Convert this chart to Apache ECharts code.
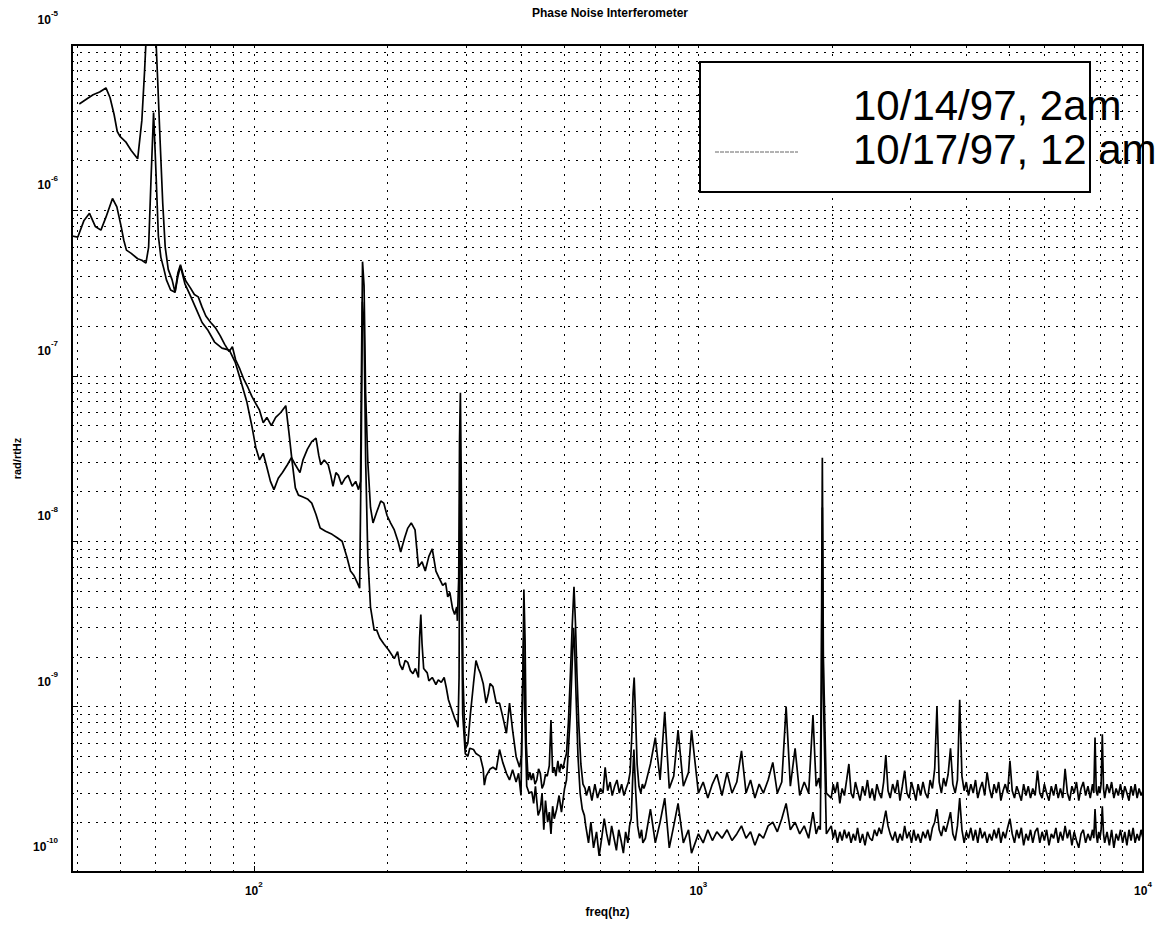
<!DOCTYPE html>
<html>
<head>
<meta charset="utf-8">
<title>Phase Noise Interferometer</title>
<script src="https://cdn.jsdelivr.net/npm/echarts/dist/echarts.min.js"></script>
<style>
  html, body { margin: 0; padding: 0; background: #fff; }
  #chart { width: 1167px; height: 930px; }
</style>
</head>
<body>
<div id="chart"></div>
<script>
// 10/14/97, 2am  -- [freq (Hz), rad/rtHz] up to 750 Hz
const lowFreq2am = [
  [40.5, 4.4e-6], [42, 4.7e-6], [43.5, 5.0e-6], [45, 5.2e-6], [46.5, 5.5e-6], [47.5, 4.8e-6], [48.5, 3.8e-6], [49.3, 3.0e-6],
  [50, 2.8e-6], [51.5, 2.6e-6], [53, 2.3e-6], [54.8, 2.05e-6], [56, 3.5e-6], [56.8, 7e-6], [57.5, 1.4e-5], [60, 1.4e-5],
  [60.8, 6e-6], [61.6, 2.5e-6], [62.4, 1.1e-6], [63.2, 6e-7], [64.2, 4.4e-7], [65.5, 3.8e-7], [66.5, 3.2e-7], [67.5, 4.2e-7],
  [68.4, 4.7e-7], [69.5, 4.0e-7], [70.5, 3.7e-7], [72, 3.4e-7], [73.5, 3.1e-7], [75, 3.0e-7], [76.5, 2.6e-7], [78, 2.3e-7],
  [80, 2.1e-7], [82, 1.95e-7], [84, 1.75e-7], [86, 1.55e-7], [88, 1.4e-7], [89.5, 1.5e-7], [91, 1.25e-7], [93, 1.1e-7],
  [95, 9.5e-8], [97, 8.5e-8], [99, 7.5e-8], [101, 6.8e-8], [103, 6.2e-8], [105, 5.2e-8], [107, 5.6e-8], [109.5, 5.0e-8],
  [112, 5.6e-8], [115, 6.0e-8], [118, 6.6e-8], [120, 4.5e-8], [122, 3.0e-8], [124, 2.1e-8], [126, 1.9e-8], [129, 1.85e-8],
  [132, 1.8e-8], [135, 1.7e-8], [138, 1.45e-8], [141, 1.2e-8], [145, 1.15e-8], [150, 1.1e-8], [154, 1.05e-8], [158, 1.0e-8],
  [162, 8e-9], [165, 6.6e-9], [168, 6.2e-9], [171, 5.6e-9], [173, 5.2e-9], [174.5, 4e-8], [175.5, 2.8e-7], [177, 2e-7],
  [178.5, 3e-8], [180.5, 8e-9], [183, 4e-9], [186.5, 2.9e-9], [189, 2.9e-9], [192, 2.6e-9], [196, 2.4e-9], [201, 2.2e-9],
  [207, 1.95e-9], [210.6, 2.15e-9], [213, 1.8e-9], [216, 1.67e-9], [219, 1.9e-9], [222, 1.85e-9], [225, 1.65e-9], [228, 1.58e-9],
  [231, 1.7e-9], [234.6, 1.5e-9], [236, 2.6e-9], [237.5, 3.6e-9], [239, 2.4e-9], [241, 1.7e-9], [245.5, 1.6e-9], [247.6, 1.43e-9],
  [252, 1.5e-9], [256.8, 1.36e-9], [260, 1.45e-9], [264, 1.4e-9], [268, 1.5e-9], [271, 1.3e-9], [274, 1.1e-9], [279, 9.5e-10],
  [283, 8.5e-10], [286, 8e-10], [288, 7.5e-10], [289.5, 1.5e-9], [291, 3.5e-8], [292.5, 1e-8], [295, 9e-10], [299, 5.2e-10],
  [303, 5.0e-10], [306, 5.6e-10], [312, 5.5e-10], [316, 5.2e-10], [323, 5.0e-10], [328, 4.2e-10], [330, 3.35e-10], [333, 3.8e-10],
  [340, 4.2e-10], [345, 4.3e-10], [351, 4.15e-10], [357, 5.5e-10], [363, 4.6e-10], [370, 3.95e-10], [376, 3.6e-10], [382, 4.15e-10],
  [389, 3.5e-10], [394, 3.95e-10], [399, 2.9e-10], [402, 1.2e-9], [404.5, 2.6e-9], [407, 9e-10], [411, 3.3e-10], [416, 3.0e-10],
  [422, 3.05e-10], [426, 2.6e-10], [430, 3.3e-10], [436, 2.2e-10], [441, 2.4e-10], [445, 3.0e-10], [449, 1.8e-10], [453, 2.7e-10],
  [458, 2.0e-10], [462, 2.3e-10], [466, 1.7e-10], [470, 2.5e-10], [474, 2.1e-10], [480, 2.4e-10], [486, 2.9e-10], [492, 2.3e-10],
  [500, 3.2e-10], [505, 3.6e-10], [510, 5.5e-10], [515, 9e-10], [520, 1.8e-9], [524, 3.0e-9], [527, 2.2e-9], [531, 1.1e-9],
  [536, 5e-10], [542, 3e-10], [548, 2.4e-10], [554, 2.2e-10], [558, 1.9e-10], [566, 1.5e-10], [573, 2.0e-10], [581, 1.4e-10],
  [590, 1.75e-10], [598, 1.25e-10], [606, 1.6e-10], [614, 2.1e-10], [622, 1.7e-10], [630, 1.45e-10], [638, 1.9e-10], [646, 1.6e-10],
  [654, 1.35e-10], [662, 1.8e-10], [670, 1.55e-10], [678, 1.3e-10], [686, 1.75e-10], [694, 1.5e-10], [700, 1.9e-10], [706, 2.1e-10],
  [711, 3.5e-10], [716, 5.5e-10], [722, 3.2e-10], [730, 1.9e-10], [738, 1.6e-10], [745, 1.8e-10], [750, 1.5e-10]
];

// 10/17/97, 12 am  -- [freq (Hz), rad/rtHz] up to 754 Hz
const lowFreq12am = [
  [39, 7.0e-7], [40.2, 6.9e-7], [41.5, 8.7e-7], [42.7, 9.6e-7], [44, 8.0e-7], [45.3, 7.6e-7], [46.5, 9.1e-7], [48.1, 1.18e-6],
  [49.2, 1.05e-6], [50.3, 8.0e-7], [51, 6.6e-7], [51.7, 5.75e-7], [53, 5.5e-7], [54.8, 5.1e-7], [56, 5.0e-7], [57.2, 4.8e-7],
  [58, 6e-7], [58.7, 1.5e-6], [59.5, 3.9e-6], [60.3, 1.6e-6], [61, 7e-7], [61.8, 5.2e-7], [62.8, 4.4e-7], [63.6, 3.8e-7],
  [65, 3.3e-7], [66.5, 3.2e-7], [67.5, 4.0e-7], [68.4, 4.6e-7], [70, 3.6e-7], [72.2, 3.0e-7], [74.6, 2.45e-7], [76.5, 2.1e-7],
  [78.7, 1.9e-7], [81.6, 1.6e-7], [84.8, 1.47e-7], [88.1, 1.43e-7], [90.9, 1.2e-7], [93.6, 9.2e-8], [96.4, 7e-8], [99.1, 4.9e-8],
  [101, 3.7e-8], [103, 3.1e-8], [105, 3.4e-8], [107, 2.8e-8], [109, 2.3e-8], [111, 2.05e-8], [113.5, 2.4e-8], [116, 2.6e-8],
  [119, 2.9e-8], [121.5, 3.2e-8], [124, 2.9e-8], [127, 2.6e-8], [129, 3.1e-8], [132, 3.6e-8], [135, 4.0e-8], [138, 4.2e-8],
  [140, 3.3e-8], [141.5, 2.9e-8], [144, 3.1e-8], [147, 2.9e-8], [149, 2.5e-8], [150.7, 2.15e-8], [153, 2.6e-8], [155, 2.5e-8],
  [157.5, 2.2e-8], [160.4, 2.4e-8], [163, 2.5e-8], [166.5, 2.15e-8], [169.5, 2.3e-8], [172, 2.05e-8], [173.8, 2.3e-8], [174.6, 1e-7],
  [175.6, 4.9e-7], [177, 3.5e-7], [178.4, 8e-8], [180.5, 3e-8], [183, 1.6e-8], [185.4, 1.29e-8], [189, 1.5e-8], [193, 1.75e-8],
  [196, 1.7e-8], [199.4, 1.43e-8], [203, 1.29e-8], [207, 1.17e-8], [211, 1.0e-8], [214, 8.6e-9], [218.4, 1.05e-8], [222, 1.2e-8],
  [226, 1.29e-8], [230.5, 1.17e-8], [234.6, 7.0e-9], [239, 7.5e-9], [243, 6.6e-9], [247.6, 8.1e-9], [252, 9.0e-9], [256.8, 6.6e-9],
  [261, 6.0e-9], [266, 5.4e-9], [270, 5.6e-9], [273, 4.6e-9], [276, 4.9e-9], [280, 3.9e-9], [283, 3.6e-9], [286, 4.0e-9],
  [287, 3.3e-9], [289, 6e-9], [290.2, 4e-8], [291.5, 7.9e-8], [293, 2e-8], [295.5, 1.5e-9], [299, 5.5e-10], [303, 6.0e-10],
  [307, 9e-10], [312, 1.38e-9], [316, 1.9e-9], [320, 1.7e-9], [323, 1.6e-9], [328, 1.38e-9], [333, 1.05e-9], [337, 1.2e-9],
  [340, 1.38e-9], [345, 1.32e-9], [351, 1.05e-9], [357, 1.05e-9], [363, 8.7e-10], [370, 6.9e-10], [376, 1.05e-9], [382, 7.2e-10],
  [389, 5.0e-10], [396, 4.3e-10], [400, 5e-10], [403, 1.5e-9], [405, 5.1e-9], [407.5, 2.5e-9], [410, 6e-10], [414, 3.6e-10],
  [418, 4.0e-10], [421, 3.6e-10], [425, 3.95e-10], [429, 3.4e-10], [433, 3.6e-10], [437, 4.2e-10], [441, 3.95e-10], [445, 3.2e-10],
  [449, 3.4e-10], [453, 3.9e-10], [457, 3.8e-10], [462, 4.4e-10], [466, 8.3e-10], [470, 4.0e-10], [474, 4.3e-10], [478, 3.8e-10],
  [483, 4.7e-10], [487, 4.0e-10], [491, 4.5e-10], [496, 4.2e-10], [500, 4.7e-10], [505, 5.2e-10], [510, 8e-10], [515, 1.5e-9],
  [520, 3e-9], [525, 5.3e-9], [529, 3.2e-9], [533, 1.6e-9], [538, 8e-10], [544, 4.5e-10], [550, 3.4e-10], [556, 3.2e-10],
  [560, 2.9e-10], [568, 3.3e-10], [576, 2.7e-10], [585, 3.4e-10], [593, 2.8e-10], [602, 3.2e-10], [610, 3.0e-10], [617, 4.3e-10],
  [625, 3.1e-10], [633, 3.5e-10], [640, 2.9e-10], [648, 3.3e-10], [656, 3.6e-10], [664, 3.0e-10], [672, 3.4e-10], [680, 2.9e-10],
  [688, 3.2e-10], [696, 3.5e-10], [702, 4.0e-10], [708, 6.5e-10], [713, 1.2e-9], [717, 1.5e-9], [722, 9e-10], [728, 4.5e-10],
  [735, 3.3e-10], [742, 3.0e-10], [748, 3.4e-10], [754, 3.2e-10]
];

// frequency bins above 750 Hz, shared by both runs
const highFreqBins = [
  760, 780, 800, 820, 840, 860, 880, 900, 925, 950,
  965, 1000, 1025, 1050, 1075, 1100, 1130, 1160, 1190, 1220,
  1250, 1280, 1310, 1340, 1370, 1400, 1435, 1470, 1505, 1540,
  1575, 1610, 1650, 1690, 1730, 1770, 1810, 1840, 1865, 1880,
  1890, 1900, 1910, 1940,
  1990, 2010, 2030, 2055, 2080, 2105, 2130, 2155, 2180, 2205,
  2230, 2255, 2280, 2310, 2340, 2370, 2400, 2430, 2460, 2490,
  2520, 2550, 2580, 2610, 2640, 2670, 2700, 2735, 2770, 2805,
  2840, 2875, 2910, 2945, 2980, 3015, 3050, 3085, 3120, 3160,
  3200, 3240, 3280, 3320, 3360, 3400, 3440, 3480, 3520, 3560,
  3600, 3645, 3690, 3735, 3780, 3825, 3870, 3915, 3960, 4005,
  4050, 4100, 4150, 4200, 4250, 4300, 4350, 4405, 4460, 4515,
  4570, 4625, 4680, 4735, 4790, 4845, 4900, 4960, 5020, 5080,
  5140, 5200, 5260, 5325, 5390, 5455, 5520, 5585, 5650, 5720,
  5790, 5860, 5930, 6000, 6070, 6145, 6220, 6295, 6370, 6445,
  6520, 6600, 6680, 6760, 6840, 6920, 7000, 7085, 7170, 7255,
  7340, 7430, 7520, 7610, 7700, 7750, 7800, 7850, 7900, 7950,
  8000, 8050, 8100, 8150, 8200, 8300, 8400, 8500, 8600, 8700,
  8800, 8900, 9000, 9100, 9200, 9300, 9400, 9500, 9600, 9700,
  9800, 9900, 10000
];

// lower noise floor (10/14/97, 2am)
const highAmp2am = [
  1.6e-10, 2.4e-10, 1.5e-10, 2.0e-10, 2.8e-10, 1.4e-10, 1.9e-10, 2.6e-10, 1.5e-10, 1.8e-10,
  1.3e-10, 1.7e-10, 1.5e-10, 1.8e-10, 1.55e-10, 1.75e-10, 1.6e-10, 1.8e-10, 1.55e-10, 1.7e-10,
  1.9e-10, 1.6e-10, 1.75e-10, 1.45e-10, 1.7e-10, 1.6e-10, 1.9e-10, 2.0e-10, 1.75e-10, 2.1e-10,
  2.6e-10, 1.8e-10, 2.0e-10, 1.7e-10, 1.9e-10, 1.6e-10, 2.3e-10, 1.7e-10, 1.9e-10, 1.8e-10,
  8e-10, 1.6e-8, 1.2e-9, 1.7e-10,
  1.9e-10, 1.6e-10, 1.8e-10, 1.5e-10, 1.75e-10, 1.55e-10, 1.8e-10, 1.6e-10, 1.75e-10, 1.5e-10,
  1.7e-10, 1.55e-10, 1.85e-10, 1.5e-10, 1.7e-10, 1.45e-10, 1.75e-10, 1.6e-10, 1.55e-10, 1.8e-10,
  1.65e-10, 1.85e-10, 1.7e-10, 2.0e-10, 2.35e-10, 1.9e-10, 1.7e-10, 1.55e-10, 1.75e-10, 1.5e-10,
  1.7e-10, 1.55e-10, 1.9e-10, 1.6e-10, 1.75e-10, 1.5e-10, 1.8e-10, 1.55e-10, 1.7e-10, 1.5e-10,
  1.75e-10, 1.6e-10, 1.8e-10, 1.55e-10, 1.85e-10, 2.0e-10, 2.4e-10, 1.8e-10, 1.65e-10, 1.9e-10,
  1.75e-10, 2.0e-10, 2.3e-10, 1.7e-10, 1.55e-10, 1.9e-10, 2.8e-10, 1.8e-10, 1.5e-10, 1.75e-10,
  1.6e-10, 1.85e-10, 1.55e-10, 1.8e-10, 1.5e-10, 1.85e-10, 1.6e-10, 1.75e-10, 1.5e-10, 1.7e-10,
  1.55e-10, 1.8e-10, 1.6e-10, 1.85e-10, 1.5e-10, 1.75e-10, 1.6e-10, 1.85e-10, 2.1e-10, 1.7e-10,
  1.5e-10, 1.8e-10, 1.6e-10, 1.85e-10, 1.45e-10, 1.7e-10, 1.55e-10, 1.8e-10, 1.5e-10, 1.75e-10,
  1.85e-10, 1.5e-10, 1.75e-10, 1.55e-10, 1.8e-10, 1.45e-10, 1.7e-10, 1.6e-10, 1.85e-10, 1.5e-10,
  1.75e-10, 1.55e-10, 1.9e-10, 1.6e-10, 1.8e-10, 1.45e-10, 1.75e-10, 1.55e-10, 1.4e-10, 1.7e-10,
  1.8e-10, 1.5e-10, 1.7e-10, 1.55e-10, 1.8e-10, 1.6e-10, 2.4e-10, 1.7e-10, 1.5e-10, 1.75e-10,
  1.6e-10, 1.8e-10, 2.5e-10, 1.7e-10, 1.5e-10, 1.75e-10, 1.45e-10, 1.8e-10, 1.4e-10, 1.7e-10,
  1.55e-10, 1.8e-10, 1.5e-10, 1.75e-10, 1.45e-10, 1.8e-10, 1.55e-10, 1.85e-10, 1.5e-10, 1.7e-10,
  1.55e-10, 1.8e-10, 1.6e-10
];

// upper noise floor (10/17/97, 12 am)
const highAmp12am = [
  3.4e-10, 4.5e-10, 6.5e-10, 3.6e-10, 9.3e-10, 3.2e-10, 3.8e-10, 7.2e-10, 3.3e-10, 4.0e-10,
  7.2e-10, 3.0e-10, 3.5e-10, 2.8e-10, 3.4e-10, 3.9e-10, 2.9e-10, 4.0e-10, 3.0e-10, 3.5e-10,
  5.4e-10, 3.0e-10, 3.6e-10, 2.8e-10, 3.4e-10, 3.0e-10, 3.6e-10, 4.6e-10, 3.0e-10, 3.5e-10,
  1.0e-9, 3.3e-10, 5.6e-10, 2.9e-10, 3.5e-10, 3.0e-10, 8.9e-10, 3.3e-10, 3.7e-10, 3.2e-10,
  1.5e-9, 3.2e-8, 2.0e-9, 3.0e-10,
  2.8e-10, 3.4e-10, 3.0e-10, 3.5e-10, 2.6e-10, 3.2e-10, 2.9e-10, 3.6e-10, 4.5e-10, 3.0e-10,
  2.8e-10, 3.5e-10, 3.1e-10, 2.7e-10, 3.3e-10, 2.9e-10, 3.6e-10, 2.8e-10, 3.2e-10, 2.7e-10,
  3.4e-10, 3.0e-10, 2.8e-10, 3.5e-10, 5.1e-10, 3.1e-10, 2.8e-10, 3.4e-10, 3.0e-10, 3.6e-10,
  2.7e-10, 3.3e-10, 4.1e-10, 3.0e-10, 2.8e-10, 3.5e-10, 3.1e-10, 2.7e-10, 3.4e-10, 2.9e-10,
  3.5e-10, 3.0e-10, 2.8e-10, 3.6e-10, 3.2e-10, 4.2e-10, 1.0e-9, 3.5e-10, 3.0e-10, 3.7e-10,
  3.3e-10, 3.9e-10, 5.6e-10, 3.4e-10, 3.0e-10, 3.6e-10, 1.1e-9, 3.8e-10, 3.1e-10, 3.5e-10,
  2.9e-10, 3.4e-10, 3.0e-10, 3.6e-10, 2.8e-10, 3.2e-10, 3.5e-10, 2.9e-10, 4.0e-10, 3.2e-10,
  2.8e-10, 3.4e-10, 3.0e-10, 3.5e-10, 2.7e-10, 3.1e-10, 3.4e-10, 3.0e-10, 4.7e-10, 3.1e-10,
  2.8e-10, 3.3e-10, 3.0e-10, 2.7e-10, 3.4e-10, 2.9e-10, 3.3e-10, 2.8e-10, 3.2e-10, 2.9e-10,
  4.1e-10, 3.0e-10, 2.8e-10, 3.4e-10, 3.0e-10, 2.7e-10, 3.3e-10, 2.9e-10, 3.4e-10, 2.8e-10,
  3.2e-10, 2.8e-10, 4.2e-10, 3.0e-10, 2.7e-10, 3.3e-10, 3.0e-10, 3.5e-10, 2.7e-10, 3.2e-10,
  3.5e-10, 2.9e-10, 3.3e-10, 2.8e-10, 3.4e-10, 3.0e-10, 6.5e-10, 3.1e-10, 2.9e-10, 3.3e-10,
  3.0e-10, 3.4e-10, 6.8e-10, 3.2e-10, 2.8e-10, 3.4e-10, 3.0e-10, 3.5e-10, 2.8e-10, 3.2e-10,
  2.9e-10, 3.4e-10, 2.8e-10, 3.3e-10, 3.0e-10, 2.7e-10, 3.3e-10, 2.9e-10, 3.4e-10, 2.8e-10,
  3.2e-10, 2.9e-10, 3.1e-10
];

// dotted grid (matlab style, every 1..9 of each decade)
const xGridLines = [40, 50, 60, 70, 80, 90, 100, 200, 300, 400, 500, 600, 700, 800, 900,
  1000, 2000, 3000, 4000, 5000, 6000, 7000, 8000, 9000];
const yGridLines = [
  2e-10, 3e-10, 4e-10, 5e-10, 6e-10, 7e-10, 8e-10, 9e-10, 1e-9,
  2e-9, 3e-9, 4e-9, 5e-9, 6e-9, 7e-9, 8e-9, 9e-9, 1e-8,
  2e-8, 3e-8, 4e-8, 5e-8, 6e-8, 7e-8, 8e-8, 9e-8, 1e-7,
  2e-7, 3e-7, 4e-7, 5e-7, 6e-7, 7e-7, 8e-7, 9e-7, 1e-6,
  2e-6, 3e-6, 4e-6, 5e-6, 6e-6, 7e-6, 8e-6, 9e-6
];

const X_MIN = 39, X_MAX = 10000, Y_MIN = 1e-10, Y_MAX = 1e-5;
const legendNames = ['10/14/97, 2am', '10/17/97, 12 am'];
const FONT = '"Liberation Sans", Arial, sans-serif';

// join low part and the binned part into one [x, y] list
function buildData(low, bins, amps) {
  return low.concat(bins.map((f, i) => [f, amps[i]]));
}

// 10^n style tick labels
function powerLabel(value) {
  const lg = Math.log10(value);
  const e = Math.round(lg);
  if (Math.abs(lg - e) > 1e-6) return '';
  return '{b|10}{s|' + e + '}';
}

const labelRich = {
  b: { fontSize: 12, fontWeight: 'bold', fontFamily: FONT, color: '#000', lineHeight: 22 },
  s: { fontSize: 8, fontWeight: 'bold', fontFamily: FONT, color: '#000', lineHeight: 10, verticalAlign: 'top' }
};

// grid segments for the 'lines' series
const gridSegments = xGridLines.map((v) => ({ coords: [[v, Y_MIN], [v, Y_MAX]] }))
  .concat(yGridLines.map((v) => ({ coords: [[X_MIN, v], [X_MAX, v]] })));

const chart = echarts.init(document.getElementById('chart'), null, { renderer: 'svg' });

const option = {
  animation: false,
  backgroundColor: '#fff',
  title: {
    text: 'Phase Noise Interferometer',
    left: 605,
    top: 2,
    textAlign: 'center',
    textStyle: { fontSize: 12, fontWeight: 'bold', fontFamily: FONT, color: '#000' }
  },
  grid: {
    left: 72, right: 24, top: 45, bottom: 58,
    show: true, borderColor: '#000', borderWidth: 2, backgroundColor: '#fff'
  },
  xAxis: {
    type: 'log',
    logBase: 10,
    min: X_MIN,
    max: X_MAX,
    name: 'freq(hz)',
    nameLocation: 'middle',
    nameGap: 34,
    nameTextStyle: { fontSize: 12, fontWeight: 'bold', fontFamily: FONT, color: '#000' },
    axisLine: { show: true, lineStyle: { color: '#000', width: 2 } },
    axisTick: { show: true, inside: true, length: 6, lineStyle: { color: '#000' } },
    splitLine: { show: false },
    axisLabel: { formatter: powerLabel, rich: labelRich, margin: 8, showMinLabel: false }
  },
  yAxis: {
    type: 'log',
    logBase: 10,
    min: Y_MIN,
    max: Y_MAX,
    name: 'rad/rtHz',
    nameLocation: 'middle',
    nameGap: 50,
    nameTextStyle: { fontSize: 11, fontWeight: 'bold', fontFamily: FONT, color: '#000' },
    axisLine: { show: true, lineStyle: { color: '#000', width: 2 } },
    axisTick: { show: true, inside: true, length: 6, lineStyle: { color: '#000' } },
    splitLine: { show: false },
    // labels sit a little above their grid line, as in the scan
    axisLabel: { formatter: powerLabel, rich: labelRich, margin: 14, verticalAlign: 'bottom', padding: [0, 0, 14, 0] }
  },
  series: [
    {
      name: 'grid',
      type: 'lines',
      coordinateSystem: 'cartesian2d',
      silent: true,
      z: 1,
      lineStyle: { color: '#000', width: 1, type: [2, 6], opacity: 1 },
      data: gridSegments
    },
    {
      name: legendNames[0],
      type: 'line',
      data: buildData(lowFreq2am, highFreqBins, highAmp2am),
      showSymbol: false,
      lineStyle: { color: '#000', width: 1.7 },
      z: 3
    },
    {
      name: legendNames[1],
      type: 'line',
      data: buildData(lowFreq12am, highFreqBins, highAmp12am),
      showSymbol: false,
      lineStyle: { color: '#000', width: 1.7 },
      z: 3
    }
  ],
  graphic: [
    {
      type: 'rect',
      z: 100,
      shape: { x: 700, y: 62, width: 390, height: 130 },
      style: { fill: '#fff', stroke: '#000', lineWidth: 2 }
    },
    {
      type: 'line',
      z: 101,
      shape: { x1: 715, y1: 152, x2: 798, y2: 152 },
      style: { stroke: '#666', lineWidth: 1, lineDash: [4, 1] }
    },
    {
      type: 'text',
      z: 101,
      x: 853,
      y: 105,
      style: { text: legendNames[0], font: '42px ' + FONT, fill: '#000', verticalAlign: 'middle' }
    },
    {
      type: 'text',
      z: 101,
      x: 853,
      y: 149,
      style: { text: legendNames[1], font: '42px ' + FONT, fill: '#000', verticalAlign: 'middle' }
    }
  ]
};

chart.setOption(option);
</script>
</body>
</html>
